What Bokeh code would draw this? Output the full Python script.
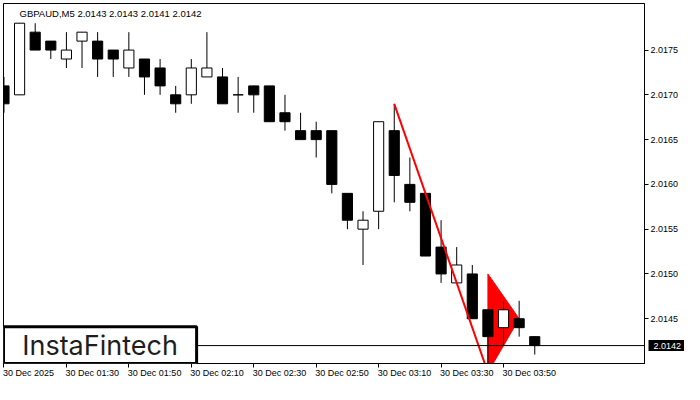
from bokeh.plotting import figure
from bokeh.models import (Range1d, FixedTicker, Span, BoxAnnotation, Label,
                          LinearAxis, ColumnDataSource, PrintfTickFormatter)
from bokeh.embed import file_html
from bokeh.resources import INLINE

# ---------------- data ----------------
symbol_title = "GBPAUD,M5  2.0143 2.0143 2.0141 2.0142"
opens  = [2.0171, 2.0170, 2.0177, 2.0176, 2.0174, 2.0176, 2.0176, 2.0175, 2.0173, 2.0174,
          2.0173, 2.0170, 2.0170, 2.0172, 2.0172, 2.0170, 2.0171, 2.0171, 2.0168, 2.0166,
          2.0166, 2.0166, 2.0159, 2.0155, 2.0157, 2.0166, 2.0160, 2.0159, 2.0153, 2.0149,
          2.0150, 2.0146, 2.0144, 2.0145, 2.0143]
highs  = [2.0172, 2.0178, 2.0178, 2.0176, 2.0177, 2.0177, 2.0177, 2.0175, 2.0177, 2.0174,
          2.0174, 2.0171, 2.0174, 2.0177, 2.0173, 2.0172, 2.0171, 2.0171, 2.0170, 2.0168,
          2.0167, 2.0166, 2.0159, 2.0157, 2.0167, 2.0169, 2.0163, 2.0159, 2.0156, 2.0153,
          2.0151, 2.0146, 2.0147, 2.0147, 2.0143]
lows   = [2.0168, 2.0170, 2.0175, 2.0174, 2.0173, 2.0173, 2.0172, 2.0172, 2.0172, 2.0170,
          2.0170, 2.0168, 2.0169, 2.0172, 2.0169, 2.0168, 2.0168, 2.0167, 2.0166, 2.0165,
          2.0163, 2.0159, 2.0155, 2.0151, 2.0155, 2.0158, 2.0157, 2.0152, 2.0149, 2.0149,
          2.0145, 2.0139, 2.0142, 2.0143, 2.0141]
closes = [2.0169, 2.0178, 2.0175, 2.0175, 2.0175, 2.0177, 2.0174, 2.0174, 2.0175, 2.0172,
          2.0171, 2.0169, 2.0173, 2.0173, 2.0169, 2.0170, 2.0170, 2.0167, 2.0167, 2.0165,
          2.0165, 2.0160, 2.0156, 2.0156, 2.0167, 2.0161, 2.0158, 2.0152, 2.0150, 2.0151,
          2.0145, 2.0143, 2.0146, 2.0144, 2.0142]

x_tick_bars = [0, 4, 8, 12, 16, 20, 24, 28, 32]
x_tick_labels = ["30 Dec 2025", "30 Dec 01:30", "30 Dec 01:50", "30 Dec 02:10",
                 "30 Dec 02:30", "30 Dec 02:50", "30 Dec 03:10", "30 Dec 03:30",
                 "30 Dec 03:50"]
y_ticks = [2.0145, 2.0150, 2.0155, 2.0160, 2.0165, 2.0170, 2.0175]

# pattern: flagpole and pennant
pole_x = [25, 31]
pole_y = [2.0169, 2.0139]
pennant_x = [31, 31, 33]
pennant_y = [2.0150, 2.0139, 2.0145]

last_price = closes[-1]
logo_text = "InstaFintech"

# ---------------- figure ----------------
W, H = 684, 384
BL, BT, BR, BB = 3, 3, 40, 21
x_start, x_end = -0.03, 41.03
y_start, y_end = 2.01400, 2.01802

p = figure(width=W, height=H, output_backend="svg", toolbar_location=None,
           x_range=Range1d(x_start, x_end), y_range=Range1d(y_start, y_end),
           y_axis_location="right",
           min_border_left=BL, min_border_top=BT, min_border_right=BR, min_border_bottom=BB)
p.grid.visible = False
p.outline_line_color = "black"
p.outline_line_width = 1
p.background_fill_color = "white"
p.border_fill_color = "white"

FONT = "Liberation Sans"
FS = 9

# y axis (right)
ya = p.yaxis[0]
ya.ticker = FixedTicker(ticks=y_ticks)
ya.formatter = PrintfTickFormatter(format="%.4f")
ya.minor_tick_line_color = None
ya.major_tick_in = 0
ya.major_tick_out = 4
ya.major_label_standoff = 2
ya.axis_line_color = "black"
ya.major_tick_line_color = "black"
ya.major_label_text_font = FONT
ya.major_label_text_font_size = f"{FS}px"
ya.major_label_text_color = "black"

# price tag: an outer right axis with a single thick tick drawn back over the scale
tag = LinearAxis(ticker=FixedTicker(ticks=[last_price]),
                 formatter=PrintfTickFormatter(format="%.4f"))
tag.axis_line_color = None
tag.minor_tick_line_color = None
tag.major_tick_line_color = "black"
tag.major_tick_line_width = 11
tag.major_tick_in = 33
tag.major_tick_out = 3
tag.major_label_standoff = -31
tag.major_label_text_font = FONT
tag.major_label_text_font_size = f"{FS}px"
tag.major_label_text_color = "white"
p.add_layout(tag, "right")

# x axis (below): tick marks at the bars
xa = p.xaxis[0]
xa.ticker = FixedTicker(ticks=x_tick_bars)
xa.major_label_overrides = {t: "" for t in x_tick_bars}
xa.major_label_text_font_size = "0px"
xa.major_label_standoff = 0
xa.minor_tick_line_color = None
xa.major_tick_in = 0
xa.major_tick_out = 4
xa.axis_line_color = "black"
xa.major_tick_line_color = "black"

# second x axis carrying the labels, left-aligned at each tick (MT4 style)
char_w = {" ": 0.278, ":": 0.278, "D": 0.722, "e": 0.556, "c": 0.5}
def text_width(s):
    return sum(char_w.get(ch, 0.556) for ch in s) * FS

px_per_bar = (W - BL - BR) / (x_end - x_start)
label_centers = [round(t + (text_width(s) / 2 - 1) / px_per_bar, 4)
                 for t, s in zip(x_tick_bars, x_tick_labels)]
xa2 = LinearAxis(ticker=FixedTicker(ticks=label_centers),
                 major_label_overrides=dict(zip(label_centers, x_tick_labels)))
xa2.axis_line_color = None
xa2.major_tick_line_color = None
xa2.minor_tick_line_color = None
xa2.major_tick_in = 0
xa2.major_tick_out = 0
xa2.major_label_standoff = 0
xa2.major_label_text_font = FONT
xa2.major_label_text_font_size = f"{FS}px"
xa2.major_label_text_color = "black"
p.add_layout(xa2, "below")

# pennant (under candles)
p.patch(pennant_x, pennant_y, fill_color="#ff0000", line_color="#ff0000", line_width=1)

# candles
bars = list(range(len(opens)))
up = [c >= o for o, c in zip(opens, closes)]
src = ColumnDataSource(dict(
    x=bars, o=opens, h=highs, l=lows, c=closes,
    top=[max(o, c) for o, c in zip(opens, closes)],
    bottom=[min(o, c) for o, c in zip(opens, closes)],
    fill=["white" if u else "black" for u in up],
))
p.segment(x0="x", y0="h", x1="x", y1="l", source=src, line_color="black", line_width=1)
p.vbar(x="x", width=0.65, top="top", bottom="bottom", source=src,
       fill_color="fill", line_color="black", line_width=1)

# flagpole (over candles)
p.line(pole_x, pole_y, line_color="#ff0000", line_width=2)

# current price line
p.add_layout(Span(location=last_price, dimension="width", line_color="black", line_width=1))

# symbol caption
p.add_layout(Label(x=x_start, y=y_end, x_offset=16, y_offset=-4, text=symbol_title,
                   text_align="left", text_baseline="top", text_font=FONT,
                   text_font_size="9.5px", text_color="black"))

# logo box
logo_right = 12.34
logo_top = 2.01441
p.add_layout(BoxAnnotation(left=x_start, right=logo_right, bottom=y_start, top=logo_top,
                           fill_color="white", fill_alpha=1.0,
                           line_color="black", line_width=3, line_alpha=1.0))
p.add_layout(Label(x=(x_start + logo_right) / 2, y=(y_start + logo_top) / 2,
                   text=logo_text, text_align="center", text_baseline="middle",
                   text_font="Inter", text_font_size="27px", text_color="#1e1e1e"))

open("out.html", "w").write(file_html(p, INLINE))
